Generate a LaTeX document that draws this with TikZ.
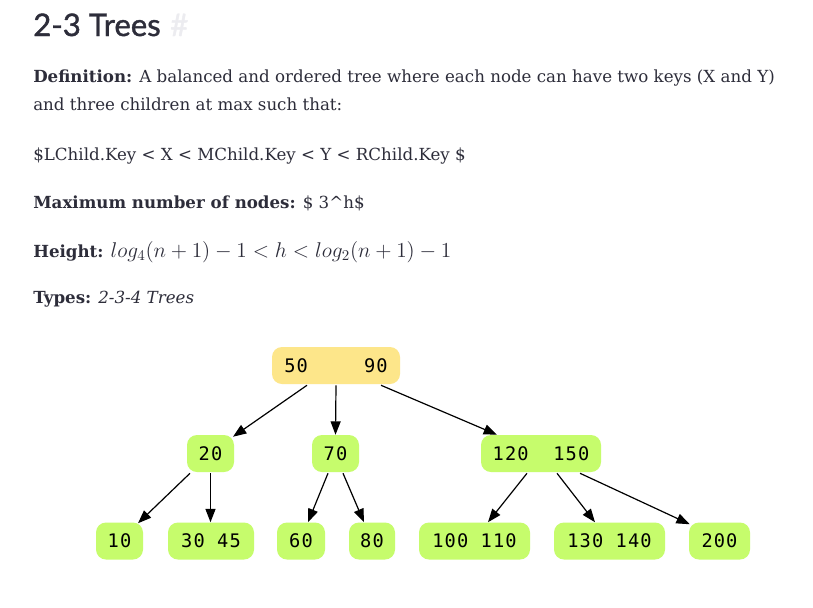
\RequirePackage{fix-cm}
\documentclass[tikz,border=0pt]{standalone}
\usepackage{fontspec}
\usepackage{amsmath}
\usetikzlibrary{arrows.meta,calc}
\setmainfont{DejaVu Serif}
\setmonofont{DejaVu Sans Mono}[LetterSpace=6]
\newfontfamily\headfont{Lato}[FakeBold=1.3]

\definecolor{ink}{RGB}{45,45,58}
\definecolor{keygreen}{RGB}{198,252,108}
\definecolor{keyyellow}{RGB}{253,230,138}
\definecolor{hashgray}{RGB}{236,236,240}

\tikzset{
    keynode/.style={rounded corners=7.5pt, fill=keygreen, minimum height=27.75pt,
        inner sep=0pt, font=\ttfamily\fontsize{14}{14}\selectfont},
    link/.style={-{Triangle[length=10pt,width=7.5pt]}, line width=0.9pt},
    textline/.style={anchor=base west, inner sep=0pt, text=ink,
        font=\fontsize{12.5}{14}\selectfont}
}

\begin{document}
\begin{tikzpicture}[x=0.75pt,y=-0.75pt]
    \useasboundingbox[fill=white] (0,0) rectangle (813,607);

    % Heading
    \node[anchor=base west, inner sep=0pt, text=ink, font=\headfont\fontsize{23.3}{24}\selectfont] (title) at (33,36) {2-3 Trees};
    \node[anchor=base west, inner sep=0pt, text=hashgray, font=\headfont\fontsize{23.3}{24}\selectfont] (hash) at (170,36) {\#};

    % Text lines
    \node[textline] (def1) at (33,82) {\textbf{Definition:} A balanced and ordered tree where each node can have two keys (X and Y)};
    \node[textline] (def2) at (33,110) {and three children at max such that:};
    \node[textline] (order) at (33,160) {\$LChild.Key < X < MChild.Key < Y < RChild.Key \$};
    \node[textline] (maxn) at (33,208) {\textbf{Maximum number of nodes:} \$ 3\symbol{94}h\$};
    \node[textline] (height) at (33,257) {\textbf{Height:} {\fontsize{16}{18}\selectfont $log_4(n+1)-1<h<log_2(n+1)-1$}};
    \node[textline] (types) at (33,303) {\textbf{Types:} \textit{2-3-4 Trees}};

    % Tree nodes
    \node[keynode, fill=keyyellow, minimum width=96pt] (root) at (336,365.5) {50\hspace{42pt}90};

    \node[keynode, minimum width=35.25pt] (n20) at (210.5,453.5) {20};
    \node[keynode, minimum width=35.25pt] (n70) at (335.5,453.5) {70};
    \node[keynode, minimum width=90pt] (n120) at (541,453.5) {120\ \ 150};

    \node[keynode, minimum width=35.25pt] (n10) at (119.5,541) {10};
    \node[keynode, minimum width=64.5pt] (n30) at (211,541) {30 45};
    \node[keynode, minimum width=36pt] (n60) at (301,541) {60};
    \node[keynode, minimum width=34.5pt] (n80) at (372,541) {80};
    \node[keynode, minimum width=83.25pt] (n100) at (474.5,541) {100 110};
    \node[keynode, minimum width=83.25pt] (n130) at (609.5,541) {130 140};
    \node[keynode, minimum width=45.75pt] (n200) at (719.5,541) {200};

    % Links
    \draw[link] ($(root.south)+(-29,1)$) -- ($(n20.north)+(22.5,2)$);
    \draw[link] ($(root.south)+(0,1)$) -- (n70.north);
    \draw[link] ($(root.south)+(45,1)$) -- ($(n120.north)+(-44,0)$);

    \draw[link] ($(n20.south)+(-20.5,1)$) -- ($(n10.north)+(18.5,1)$);
    \draw[link] ($(n20.south)+(0,1)$) -- ($(n30.north)+(-0.5,0)$);
    \draw[link] ($(n70.south)+(-7.5,1)$) -- ($(n60.north)+(7,0)$);
    \draw[link] ($(n70.south)+(7.5,1)$) -- ($(n80.north)+(-8,0)$);

    \draw[link] ($(n120.south)+(-14,1)$) -- ($(n100.north)+(13.5,0)$);
    \draw[link] ($(n120.south)+(16,1)$) -- ($(n130.north)+(-14.5,0)$);
    \draw[link] ($(n120.south)+(39,1)$) -- ($(n200.north west)+(1,2)$);
\end{tikzpicture}
\end{document}
